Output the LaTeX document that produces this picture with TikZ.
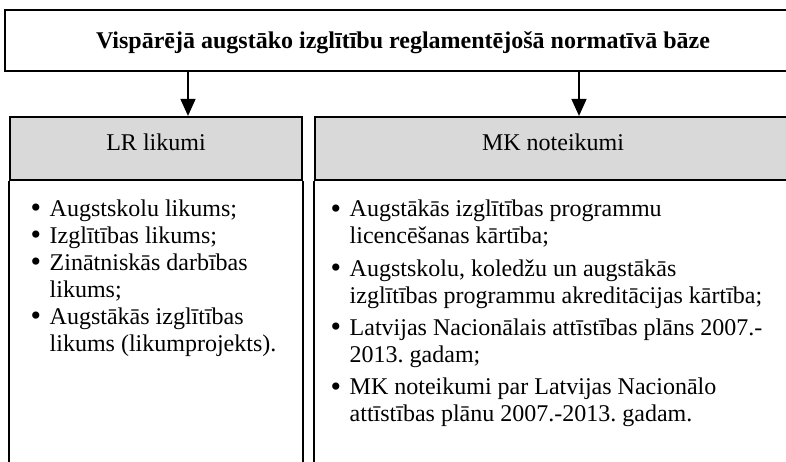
\documentclass[tikz,border=0pt]{standalone}
\usepackage{fontspec}
\setmainfont{Liberation Serif}
\usetikzlibrary{arrows.meta}
\definecolor{hdrgray}{HTML}{D9D9D9}
\newcommand{\bul}{\makebox[19pt][l]{\raisebox{-1.5pt}{\fontsize{30}{27}\selectfont•}}}
\newcommand{\ind}{\hspace*{19pt}}
\begin{document}
\frenchspacing
\begin{tikzpicture}[x=1pt,y=-1pt,
  box/.style={draw=black, line width=2.2pt, inner sep=0pt},
  hdr/.style={box, fill=hdrgray, font=\fontsize{24}{27}\selectfont, text height=14pt, text depth=11pt},
  txt/.style={inner sep=0pt, anchor=base west, font=\fontsize{24}{27}\selectfont\frenchspacing},
  conn/.style={line width=1.6pt, -{Triangle[width=15pt,length=17pt]}}]
\useasboundingbox (0,0) rectangle (786,461);
\clip (0,0) rectangle (786,461);
% top box
\node[box, minimum width=796pt, minimum height=60.5pt, text height=18pt, text depth=3pt,
      font=\fontsize{24}{27}\selectfont\bfseries] (top) at (403,40.5)
  {Vispārējā augstāko izglītību reglamentējošā normatīvā bāze};
% headers
\node[hdr, minimum width=292pt, minimum height=63pt] (lhead) at (156,148.5) {LR likumi};
\node[hdr, minimum width=476pt, minimum height=63pt] (rhead) at (553,148.5) {MK noteikumi};
% body sides
\draw[box] (lhead.south west) -- ++(0,300) (lhead.south east) -- ++(0,300);
\draw[box] (rhead.south west) -- ++(0,300) (rhead.south east) -- ++(0,300);
% arrows
\coordinate (a1) at (188,0);
\coordinate (a2) at (579,0);
\draw[conn] (top.south -| a1) -- (lhead.north -| a1);
\draw[conn] (top.south -| a2) -- (rhead.north -| a2);
% left list
\node[txt] (l1) at (30.5,216) {\bul Augstskolu likums;};
\node[txt] (l2) at (30.5,243) {\bul Izglītības likums;};
\node[txt] (l3) at (30.5,270) {\begin{tabular}[t]{@{}l@{}}\bul Zinātniskās darbības\\\ind likums;\end{tabular}};
\node[txt] (l4) at (30.5,324) {\begin{tabular}[t]{@{}l@{}}\bul Augstākās izglītības\\\ind likums (likumprojekts).\end{tabular}};
% right list
\node[txt] (r1) at (330.5,216.5) {\begin{tabular}[t]{@{}l@{}}\bul Augstākās izglītības programmu\\\ind licencēšanas kārtība;\end{tabular}};
\node[txt] (r2) at (330.5,276) {\begin{tabular}[t]{@{}l@{}}\bul Augstskolu, koledžu un augstākās\\\ind izglītības programmu akreditācijas kārtība;\end{tabular}};
\node[txt] (r3) at (330.5,335) {\begin{tabular}[t]{@{}l@{}}\bul Latvijas Nacionālais attīstības plāns 2007.-\\\ind 2013. gadam;\end{tabular}};
\node[txt] (r4) at (330.5,394.5) {\begin{tabular}[t]{@{}l@{}}\bul MK noteikumi par Latvijas Nacionālo\\\ind attīstības plānu 2007.-2013. gadam.\end{tabular}};
\end{tikzpicture}
\end{document}
